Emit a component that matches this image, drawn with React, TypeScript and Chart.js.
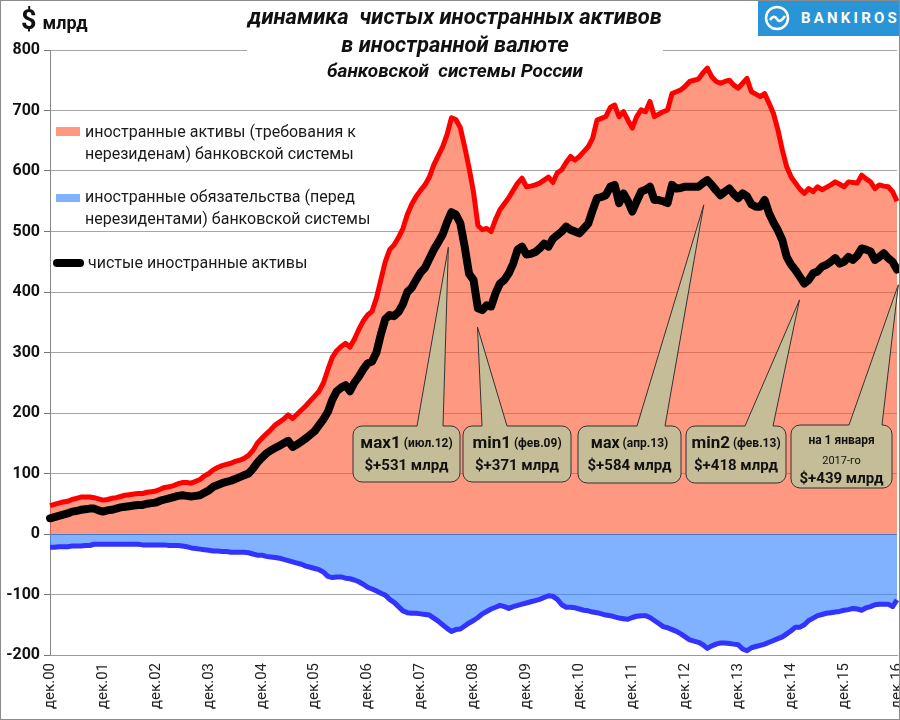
import React, { useEffect, useRef } from 'react';
import { Chart, registerables } from 'chart.js';

Chart.register(...registerables);

const FONT = "Roboto, 'Open Sans', 'Noto Sans', sans-serif";

// Monthly categories from Dec 2000 to Dec 2016
const MONTH_NAMES = ['янв', 'фев', 'мар', 'апр', 'май', 'июн', 'июл', 'авг', 'сен', 'окт', 'ноя', 'дек'];
const YEAR_TICKS = ['дек.00', 'дек.01', 'дек.02', 'дек.03', 'дек.04', 'дек.05', 'дек.06', 'дек.07', 'дек.08',
  'дек.09', 'дек.10', 'дек.11', 'дек.12', 'дек.13', 'дек.14', 'дек.15', 'дек.16'];

// иностранные активы ($ млрд)
const ASSETS = [
  47,
  49, 51, 53, 54, 57, 59, 61, 61, 61, 60, 58, 56,
  57, 59, 60, 62, 64, 65, 66, 67, 67, 69, 70, 71,
  74, 77, 78, 80, 83, 85, 85, 84, 87, 90, 96, 100,
  106, 110, 113, 115, 117, 120, 122, 125, 130, 138, 150, 158,
  165, 172, 180, 185, 190, 197, 191, 198, 205, 212, 220, 228,
  236, 250, 272, 292, 303, 310, 315, 309, 322, 338, 352, 362,
  368, 390, 420, 450, 470, 478, 490, 505, 528, 545, 558, 568,
  577, 590, 610, 625, 640, 660, 688, 685, 672, 640, 605, 565,
  510, 503, 505, 500, 520, 536, 546, 556, 568, 580, 588, 574,
  575, 577, 580, 585, 590, 581, 597, 602, 614, 624, 618, 624,
  632, 640, 654, 684, 687, 690, 705, 709, 690, 698, 684, 671,
  690, 701, 698, 715, 690, 694, 698, 701, 728, 731, 734, 740,
  748, 750, 752, 762, 770, 756, 748, 745, 748, 750, 742, 737,
  745, 753, 731, 727, 723, 728, 712, 695, 668, 635, 607, 590,
  580, 570, 563, 571, 566, 574, 569, 573, 577, 582, 578, 574,
  582, 581, 580, 593, 587, 582, 571, 577, 575, 574, 566, 550,
];

// иностранные обязательства ($ млрд)
const LIABILITIES = [
  -22,
  -22, -21, -21, -21, -20, -20, -20, -19, -19, -17, -17, -17,
  -17, -17, -17, -17, -17, -17, -17, -17, -18, -18, -18, -18,
  -18, -18, -19, -19, -19, -20, -21, -23, -24, -25, -26, -27,
  -28, -28, -29, -29, -30, -30, -30, -30, -31, -33, -35, -35,
  -37, -38, -39, -40, -42, -44, -46, -48, -50, -53, -55, -57,
  -59, -63, -70, -72, -71, -71, -73, -74, -76, -79, -83, -88,
  -91, -94, -98, -101, -108, -113, -120, -127, -130, -131, -131, -132,
  -133, -134, -139, -144, -150, -156, -161, -158, -157, -152, -147, -143,
  -138, -132, -128, -124, -121, -118, -120, -123, -120, -118, -116, -114,
  -112, -110, -108, -105, -102, -103, -108, -117, -121, -121, -122, -124,
  -126, -127, -129, -130, -132, -134, -135, -137, -139, -140, -141, -138,
  -136, -135, -135, -138, -143, -148, -153, -155, -158, -161, -165, -170,
  -175, -177, -179, -183, -189, -185, -182, -180, -180, -181, -182, -183,
  -190, -193, -188, -186, -184, -182, -179, -176, -173, -170, -165, -160,
  -154, -154, -150, -143, -139, -135, -133, -131, -130, -129, -128, -126,
  -125, -123, -124, -126, -122, -120, -117, -116, -116, -116, -120, -109,
];

// чистые иностранные активы ($ млрд)
const NET = [
  26,
  28, 30, 32, 34, 37, 38, 40, 41, 42, 42, 39, 37,
  39, 40, 42, 44, 45, 46, 47, 48, 48, 50, 51, 52,
  55, 57, 59, 61, 63, 64, 63, 62, 63, 64, 68, 72,
  78, 81, 84, 86, 88, 91, 94, 97, 100, 108, 118, 126,
  133, 138, 142, 146, 150, 154, 144, 148, 153, 158, 164, 170,
  180, 190, 202, 222, 236, 242, 246, 236, 250, 260, 272, 282,
  285, 300, 330, 355, 362, 360, 367, 380, 400, 407, 420, 432,
  440, 455, 470, 482, 495, 515, 532, 528, 514, 475, 430, 420,
  373, 370, 378, 376, 398, 414, 420, 431, 447, 470, 475, 462,
  463, 466, 472, 480, 475, 488, 494, 500, 508, 503, 500, 497,
  505, 513, 535, 555, 557, 560, 574, 577, 547, 563, 550, 533,
  550, 566, 569, 574, 552, 552, 550, 547, 577, 571, 572, 574,
  574, 574, 574, 580, 585, 577, 568, 560, 566, 571, 562, 555,
  563, 558, 545, 541, 541, 552, 530, 515, 502, 486, 458, 445,
  436, 425, 414, 420, 431, 434, 442, 445, 450, 456, 447, 450,
  458, 453, 460, 472, 470, 467, 453, 458, 464, 456, 450, 437,
];

const CATEGORIES: string[] = NET.map((_, i) => {
  const m = (11 + i) % 12;
  const y = Math.floor((11 + i) / 12);
  return MONTH_NAMES[m] + '.' + String(y).padStart(2, '0');
});

const Y_MIN = -200;
const Y_MAX = 800;
const Y_STEP = 100;

type Part = { text: string; font: string };
type Callout = {
  box: [number, number, number, number];
  base: [number, number];
  tipIndex: number;
  tipValue: number;
  lines: { y: number; parts: Part[] }[];
};

const B = (s: number) => `bold ${s}px ${FONT}`;
const N = (s: number) => `${s}px ${FONT}`;

const CALLOUTS: Callout[] = [
  {
    box: [353, 426, 460, 482], base: [417, 443], tipIndex: 90.3, tipValue: 474,
    lines: [
      { y: 444, parts: [{ text: 'мах1', font: B(17) }, { text: ' (июл.12)', font: B(12) }] },
      { y: 466, parts: [{ text: '$+531 млрд', font: B(15) }] },
    ],
  },
  {
    box: [463, 426, 571, 482], base: [482, 507], tipIndex: 96.9, tipValue: 342,
    lines: [
      { y: 444, parts: [{ text: 'min1', font: B(17) }, { text: ' (фев.09)', font: B(12) }] },
      { y: 466, parts: [{ text: '$+371 млрд', font: B(15) }] },
    ],
  },
  {
    box: [578, 426, 681, 483], base: [637, 665], tipIndex: 148.2, tipValue: 544,
    lines: [
      { y: 444, parts: [{ text: 'мах', font: B(16) }, { text: ' (апр.13)', font: B(12) }] },
      { y: 466, parts: [{ text: '$+584 млрд', font: B(15) }] },
    ],
  },
  {
    box: [686, 426, 786, 483], base: [745, 773], tipIndex: 169.9, tipValue: 387,
    lines: [
      { y: 444, parts: [{ text: 'min2', font: B(17) }, { text: ' (фев.13)', font: B(12) }] },
      { y: 466, parts: [{ text: '$+418 млрд', font: B(15) }] },
    ],
  },
  {
    box: [791, 425, 892, 488], base: [849, 882], tipIndex: 192.3, tipValue: 412,
    lines: [
      { y: 441, parts: [{ text: 'на 1 января', font: B(12) }] },
      { y: 461, parts: [{ text: '2017-го', font: N(11) }] },
      { y: 479, parts: [{ text: '$+439 млрд', font: B(15) }] },
    ],
  },
];

const calloutPlugin = {
  id: 'callouts',
  afterDraw(chart: any) {
    const ctx = chart.ctx as CanvasRenderingContext2D;
    const xs = chart.scales.x;
    const ys = chart.scales.y;
    CALLOUTS.forEach((c) => {
      const tx = xs.getPixelForValue(c.tipIndex);
      const ty = ys.getPixelForValue(c.tipValue);
      const [l, t, r, b] = c.box;
      const rad = 9;
      ctx.save();
      ctx.beginPath();
      ctx.moveTo(l + rad, t);
      ctx.lineTo(c.base[0], t);
      ctx.lineTo(tx, ty);
      ctx.lineTo(c.base[1], t);
      ctx.lineTo(r - rad, t);
      ctx.arcTo(r, t, r, t + rad, rad);
      ctx.lineTo(r, b - rad);
      ctx.arcTo(r, b, r - rad, b, rad);
      ctx.lineTo(l + rad, b);
      ctx.arcTo(l, b, l, b - rad, rad);
      ctx.lineTo(l, t + rad);
      ctx.arcTo(l, t, l + rad, t, rad);
      ctx.closePath();
      ctx.fillStyle = '#C4BD97';
      ctx.fill();
      ctx.strokeStyle = '#333333';
      ctx.lineWidth = 1;
      ctx.stroke();
      ctx.fillStyle = '#111111';
      ctx.textBaseline = 'middle';
      ctx.textAlign = 'left';
      c.lines.forEach((line) => {
        let total = 0;
        line.parts.forEach((p) => {
          ctx.font = p.font;
          total += ctx.measureText(p.text).width;
        });
        let x = (l + r) / 2 - total / 2;
        line.parts.forEach((p) => {
          ctx.font = p.font;
          ctx.fillText(p.text, x, line.y);
          x += ctx.measureText(p.text).width;
        });
      });
      ctx.restore();
    });
  },
};

export default function App() {
  const canvasRef = useRef<HTMLCanvasElement | null>(null);

  useEffect(() => {
    const canvas = canvasRef.current;
    if (!canvas) return;
    const chart = new Chart(canvas, {
      type: 'line',
      data: {
        labels: CATEGORIES,
        datasets: [
          {
            label: 'чистые иностранные активы',
            data: NET,
            borderColor: '#000000',
            borderWidth: 8,
            fill: false,
            borderJoinStyle: 'round',
            borderCapStyle: 'round',
          },
          {
            label: 'иностранные активы',
            data: ASSETS,
            borderColor: '#FF0000',
            borderWidth: 5,
            backgroundColor: 'rgba(255,83,43,0.6)',
            fill: 'origin',
            borderJoinStyle: 'round',
          },
          {
            label: 'иностранные обязательства',
            data: LIABILITIES,
            borderColor: '#3333FF',
            borderWidth: 5,
            backgroundColor: 'rgba(43,127,255,0.6)',
            fill: 'origin',
            borderJoinStyle: 'round',
          },
        ],
      },
      options: {
        animation: false,
        responsive: false,
        devicePixelRatio: 1,
        layout: { padding: { top: 50, right: 3, left: 0, bottom: 0 } },
        elements: { point: { radius: 0 }, line: { tension: 0 } },
        plugins: {
          legend: { display: false },
          tooltip: { enabled: false },
          title: { display: false },
        },
        scales: {
          x: {
            type: 'category',
            grid: { display: false, drawTicks: false },
            border: { display: true, color: '#999999' },
            ticks: {
              autoSkip: false,
              minRotation: 90,
              maxRotation: 90,
              padding: 8,
              color: '#222222',
              font: { family: FONT, size: 15 },
              callback: (_v: any, i: number) => (i % 12 === 0 ? YEAR_TICKS[i / 12] : ''),
            },
            afterFit: (s: any) => {
              s.height = 65;
              s.paddingLeft = 0;
              s.paddingRight = 0;
            },
          },
          y: {
            min: Y_MIN,
            max: Y_MAX,
            ticks: {
              stepSize: Y_STEP,
              color: '#111111',
              padding: 4,
              font: { family: FONT, size: 16, weight: 'bold' },
            },
            grid: {
              color: (ctx: any) => (ctx.tick && ctx.tick.value === 0 ? '#6e6e6e' : '#a6a6a6'),
              tickLength: 6,
              tickColor: '#777777',
            },
            border: { color: '#888888' },
            afterFit: (s: any) => {
              s.width = 50;
            },
          },
        },
      },
      plugins: [calloutPlugin],
    } as any);
    return () => chart.destroy();
  }, []);

  const legendText: React.CSSProperties = {
    position: 'absolute',
    fontSize: 16,
    lineHeight: '22px',
    color: '#1a1a1a',
    whiteSpace: 'nowrap',
  };
  const titleLine: React.CSSProperties = {
    position: 'absolute',
    left: 0,
    width: 416,
    textAlign: 'center',
    fontWeight: 'bold',
    fontStyle: 'italic',
    color: '#111',
    whiteSpace: 'nowrap',
  };

  return (
    <div style={{ position: 'absolute', left: 0, top: 0, width: 900, height: 720, background: '#fff', fontFamily: FONT, overflow: 'hidden' }}>
      <canvas ref={canvasRef} width={900} height={720} style={{ position: 'absolute', left: 0, top: 0, width: 900, height: 720 }} />

      {/* unit label */}
      <div style={{ position: 'absolute', left: 21, top: 4, fontWeight: 'bold', color: '#111', whiteSpace: 'nowrap' }}>
        <span style={{ fontSize: 27 }}>$</span>
        <span style={{ fontSize: 18, marginLeft: 6 }}>млрд</span>
      </div>

      {/* title */}
      <div style={{ position: 'absolute', left: 247, top: 0, width: 416, height: 86, background: '#fff' }}>
        <div style={{ ...titleLine, top: 3, fontSize: 22, lineHeight: '28px' }}>динамика&nbsp; чистых иностранных активов</div>
        <div style={{ ...titleLine, top: 31, fontSize: 22, lineHeight: '28px' }}>в иностранной валюте</div>
        <div style={{ ...titleLine, top: 59, fontSize: 19, lineHeight: '24px' }}>банковской&nbsp; системы России</div>
      </div>

      {/* logo */}
      <div style={{ position: 'absolute', left: 758, top: 0, width: 142, height: 36, background: '#2A95D6' }}>
        <svg width={40} height={36} style={{ position: 'absolute', left: 0, top: 0 }}>
          <circle cx={19} cy={18} r={11} fill="none" stroke="#fff" strokeWidth={2.5} />
          <path d="M12 20 Q16 14 19 19 Q22 24 27 16" fill="none" stroke="#fff" strokeWidth={2.5} />
        </svg>
        <div style={{ position: 'absolute', left: 43, top: 0, lineHeight: '36px', fontSize: 15, fontWeight: 'bold', letterSpacing: 3.2, color: '#fff' }}>BANKIROS</div>
      </div>

      {/* legend */}
      <div style={{ position: 'absolute', left: 56, top: 127, width: 24, height: 9, background: '#FF9880' }} />
      <div style={{ ...legendText, left: 85, top: 121 }}>
        иностранные активы (требования к<br />нерезиденам) банковской системы
      </div>
      <div style={{ position: 'absolute', left: 56, top: 194, width: 24, height: 8, background: '#80B2FF' }} />
      <div style={{ ...legendText, left: 85, top: 186 }}>
        иностранные обязательства (перед<br />нерезидентами) банковской системы
      </div>
      <div style={{ position: 'absolute', left: 53, top: 259, width: 31, height: 8, borderRadius: 4, background: '#000' }} />
      <div style={{ ...legendText, left: 88, top: 252 }}>чистые иностранные активы</div>

      {/* outer frame */}
      <div style={{ position: 'absolute', left: 0, top: 0, width: 900, height: 720, boxSizing: 'border-box', border: '1px solid #8c8c8c', pointerEvents: 'none' }} />
    </div>
  );
}
